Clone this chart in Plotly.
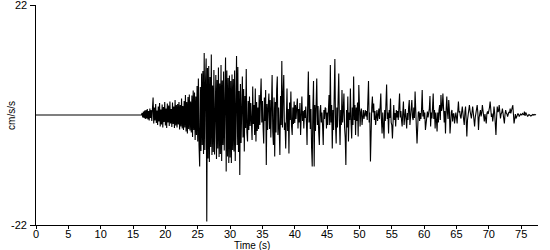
import plotly.graph_objects as go

# Pre-event quiet segment (s, cm/s/s)
t_quiet = [0.0]
a_quiet = [0.0]

t_start = 16.0
dt = 0.1
accel = [
    0, 0, 0, 0, 0.4, -0.5, 0.7, -0.6, 0.9, -0.8,                 # 16
    1.0, -0.7, 1.2, -0.9, 0.8, -1.1, 1.3, -0.6, 1.0, -1.2,        # 17
    1.2, 3.5, -1.7, 1.5, -1.1, 2.2, -1.6, 0.9, -2.0, 1.7,         # 18
    -1.3, 2.4, -2.3, 1.1, -1.9, 2.1, -2.5, 1.6, -1.4, 2.6,        # 19
    -2.1, 1.3, -2.6, 2.3, -1.5, 1.9, -2.2, 2.7, -1.7, 1.2,        # 20
    -2.4, 2.5, -1.8, 1.7, -2.6, 3.0, -2.1, 2.0, -2.5, 2.2,        # 21
    -1.9, 2.6, -2.9, 2.0, -2.3, 3.3, -2.7, 1.8, -3.0, 2.8,        # 22
    -2.5, 4.0, -3.3, 2.6, -3.7, 3.6, -2.8, 4.1, -3.1, 2.7,        # 23
    -3.5, 3.9, -4.4, 4.9, -3.0, 4.5, -5.0, 3.7, -4.0, 5.8,        # 24
    -5.3, 7.3, -6.0, -10.3, 5.6, -7.2, 8.3, -6.0, 8.8, -7.8,      # 25
    12.4, -7.0, 6.4, 11.3, -21.3, 9.4, -8.7, 9.8, -9.4, 7.6,      # 26
    -6.4, 12.1, -8.0, 5.9, -7.4, 9.0, -7.9, 5.4, 8.0, -8.8,       # 27
    7.0, -6.7, 9.5, -8.4, 6.3, -7.8, 10.0, -9.2, 6.9, -6.0,       # 28
    8.7, -7.1, 6.4, 11.5, -11.3, 8.9, -8.3, 7.4, -9.6, 7.9,       # 29
    -8.5, 6.8, -9.6, 8.1, -7.0, 7.2, -7.3, 8.9, -9.2, 5.8,        # 30
    11.8, -6.0, 9.6, -7.4, 4.8, -12.0, 6.2, -5.6, 4.2, 7.7,       # 31
    -4.5, 5.2, -7.3, 3.8, -2.6, 9.2, -3.5, -5.3, 2.8, -3.0,       # 32
    3.7, -2.2, 2.4, -3.8, -5.0, 5.7, -1.8, 2.0, -4.0, 5.3,        # 33
    -5.3, 2.6, -3.2, 1.5, -2.8, 4.0, -2.0, 3.5, 7.3, -1.5,        # 34
    2.8, -2.4, -5.7, 3.5, -1.2, 5.0, -10.0, 2.2, -3.0, 1.8,       # 35
    4.3, -2.8, 3.0, -4.5, 2.2, 8.0, -3.4, -6.0, 3.5, -8.3,        # 36
    2.6, -3.5, 5.0, 7.7, -4.0, 1.5, -3.0, -8.0, 3.8, -2.0,        # 37
    10.8, -2.5, 4.0, 8.0, -3.0, -1.5, -6.7, 2.0, 5.3, -3.2,       # 38
    1.2, -7.7, 2.5, -1.0, 4.7, -2.2, -4.0, 1.5, -1.8, 2.7,        # 39
    -1.6, 2.0, -0.8, 1.5, 3.3, -2.7, 1.2, -1.5, 2.4, -4.0,        # 40
    2.0, 3.7, -1.2, 0.8, -2.7, 1.0, -0.6, 1.7, -1.4, -6.0,        # 41
    2.5, 8.7, -1.5, 4.0, -2.8, 1.2, -6.5, -10.3, 1.5, 6.8,        # 42
    -10.3, 2.0, -3.2, 1.0, 7.3, -2.0, 1.8, -3.5, -6.0, 0.8,       # 43
    2.0, -1.5, 0.5, -2.2, -6.0, 1.0, -0.8, 1.5, 1.3, -2.7,        # 44
    0.5, -2.0, 1.8, 4.0, -2.0, 10.0, -1.5, 2.0, -6.7, 1.0,        # 45
    -3.0, 4.5, 11.2, -2.0, -5.7, 1.5, -2.5, 3.0, 8.3, -1.0,       # 46
    -6.0, 1.0, -2.0, 5.0, -1.5, 1.0, 4.3, -2.5, -4.5, -10.0,      # 47
    1.0, -2.5, 3.7, -5.3, 0.5, -1.0, 5.3, -1.5, -4.7, 1.5,        # 48
    -2.0, 7.7, -1.0, 2.0, -4.0, 1.5, -1.2, 2.5, -4.3, 6.0,        # 49
    -0.8, -2.3, 0.6, 1.3, -2.0, 0.5, 1.0, -0.8, 0.4, 1.0,         # 50
    -0.3, 0.8, -1.0, 2.0, 6.8, -1.5, 0.5, -9.3, -2.0, 1.5,        # 51
    3.7, 0.5, 2.3, -1.0, 0.8, -2.0, -0.5, 1.0, -1.2, 0.3,         # 52
    1.3, -0.8, 2.0, 4.3, -1.0, -3.7, 0.5, -1.5, -4.7, 1.0,        # 53
    -1.2, 2.5, 6.1, -0.8, 0.5, -3.7, 1.0, -0.6, 3.3, -1.5,        # 54
    -2.0, -4.7, 0.8, 2.0, -1.0, 0.4, -2.3, 1.0, -0.5, 0.8,        # 55
    -1.0, 1.5, 4.3, -0.5, 0.8, -1.0, -2.3, 0.6, 2.7, -2.0,        # 56
    0.5, 1.2, -0.8, -2.7, 0.4, -1.0, 1.5, 3.0, -2.0, 0.6,         # 57
    1.0, 3.0, -0.5, -1.0, 1.5, -0.6, 4.7, -1.2, -2.5, -5.7,       # 58
    -1.0, 0.5, 0.7, -1.2, 0.4, -0.8, 1.2, 5.0, -0.3, 1.0,         # 59
    -0.8, 0.5, -3.0, -1.0, 0.6, 0.7, -0.5, 0.4, 1.3, 3.8,         # 60
    -2.3, 0.5, -0.7, 1.5, 4.3, -0.8, 1.0, -2.7, 0.5, -1.0,        # 61
    -3.3, 0.5, -1.5, 1.0, 2.0, -1.0, 4.0, 0.8, 1.5, 4.3,          # 62
    0.5, -1.5, 0.8, -3.7, 1.0, 3.7, 0.5, -0.8, 3.0, 1.0,          # 63
    -3.7, -0.8, 0.6, 1.0, -1.3, 0.2, 0.3, -1.7, -0.3, 0.5,        # 64
    -0.5, -1.7, 0.8, 2.7, 0.5, 0.8, -0.3, -0.7, 0.6, 1.7,         # 65
    0.3, -0.8, -2.0, 0.6, 1.7, -1.0, -4.3, -1.0, 0.5, 1.0,        # 66
    2.0, 0.8, -0.3, -0.7, 0.5, 1.7, 0.4, -0.8, -2.3, -0.5,        # 67
    0.3, 1.0, 2.0, 0.5, -3.0, -0.5, 0.6, 1.0, -0.3, 0.4,          # 68
    2.0, 0.6, -0.4, -1.3, 0.2, -0.6, -1.7, 0.3, 0.7, 0.2,         # 69
    0.8, 1.5, 2.7, 0.5, -0.4, 0.3, -1.3, -0.2, 1.7, 0.4,          # 70
    -1.0, -4.0, -0.5, 1.7, 0.6, 0.8, 2.0, 0.3, -0.7, 0.2,         # 71
    0.5, 1.3, 0.2, -0.6, -1.7, 0.1, 1.0, 0.4, 0.2, -0.3,          # 72
    0.2, 0.6, 0.4, 1.3, 0.3, 0.8, 1.2, 2.0, 0.2, -1.7,            # 73
    -0.8, 0.2, -0.7, -0.2, 0.1, 0.3, 0.1, -0.3, -0.1, 0.2,        # 74
    0.1, 0.0, 0.3, 0.2, 0.0, 0.7, -0.2, 0.5, 0.3, 0.0,            # 75
    -0.3, -0.1, 0.1, 0.0, -0.1, -0.2, -0.1, 0.0, 0.1, 0.0,        # 76
    0.1, 0.0, 0.0, 0.1,                                           # 77
]

x_ticks = [0, 5, 10, 15, 20, 25, 30, 35, 40, 45, 50, 55, 60, 65, 70, 75]
y_ticks = [-22, 22]
y_labels = ["-22", "22"]
x_range = [0, 77.6]
y_range = [-22, 22]

times = t_quiet + [round(t_start + i * dt, 3) for i in range(len(accel))]
values = a_quiet + accel

fig = go.Figure()
fig.add_trace(go.Scatter(x=times, y=values, mode="lines",
                         line=dict(color="black", width=1.1),
                         hoverinfo="skip", showlegend=False))

font = dict(family="Liberation Sans, Arial, sans-serif", size=11, color="black")

# y tick labels drawn as annotations so the top one is not dropped at the edge
annots = [
    dict(text=lab, x=0, xref="paper", y=val, yref="y", xanchor="right",
         yanchor="middle", xshift=-7, showarrow=False, font=font)
    for val, lab in zip(y_ticks, y_labels)
]
annots += [
    dict(text="Time (s)", xref="paper", yref="paper", x=0.43, y=-0.062,
         xanchor="center", yanchor="top", showarrow=False, borderpad=0,
         font=dict(family=font["family"], size=10, color="black")),
    dict(text="cm/s/s", xref="paper", yref="paper", x=-0.035, y=0.5,
         xanchor="right", yanchor="middle", showarrow=False, textangle=-90,
         font=dict(family=font["family"], size=10, color="black")),
]

fig.update_layout(
    width=550, height=250,
    margin=dict(l=36, r=12, t=5, b=25),
    paper_bgcolor="white", plot_bgcolor="white",
    font=font,
    xaxis=dict(range=x_range, tickvals=x_ticks, ticks="outside", ticklen=3,
               ticklabelstandoff=-4,
               tickcolor="black", showline=True, linecolor="black", linewidth=1,
               showgrid=False, zeroline=False, tickfont=font),
    yaxis=dict(range=y_range, tickvals=y_ticks, ticktext=["", ""], ticks="outside",
               ticklen=5, tickcolor="black", showline=True, linecolor="black",
               linewidth=1, showgrid=False, zeroline=False, tickfont=font),
    annotations=annots,
)

fig.write_html("out.html")
